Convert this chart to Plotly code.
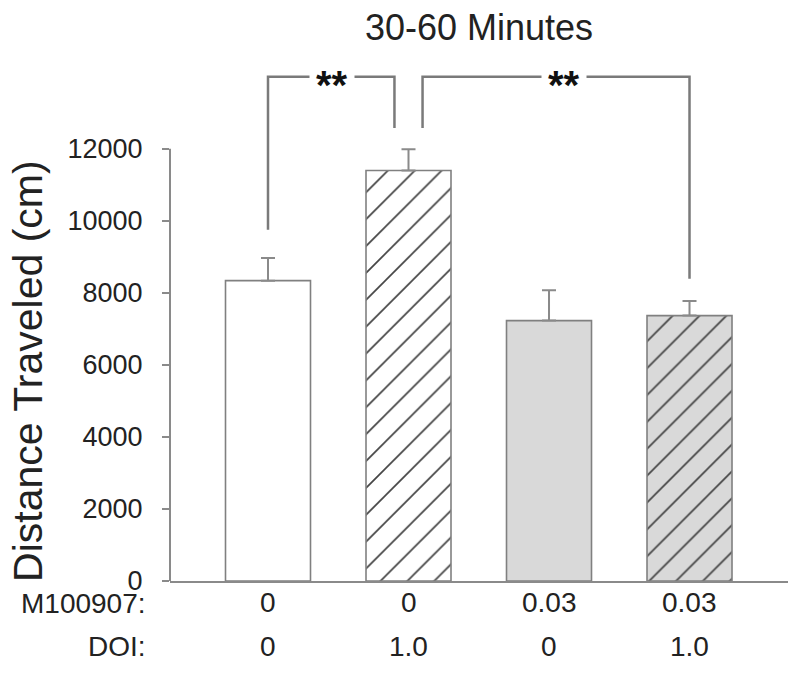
import plotly.graph_objects as go

# ---- data ----
m100907_labels = ["0", "0", "0.03", "0.03"]
doi_labels = ["0", "1.0", "0", "1.0"]
distance = [8340, 11400, 7230, 7370]
sem = [630, 590, 845, 408]
bar_fill = ["white", "white", "#d9d9d9", "#d9d9d9"]
bar_hatch = ["", "/", "", "/"]
y_ticks = [0, 2000, 4000, 6000, 8000, 10000, 12000]

# significance brackets (x in group index, y in cm)
bracket1_x = [0, 0, 0.9, 0.9]
bracket1_y = [9750, 14000, 14000, 12580]
bracket2_x = [1.1, 1.1, 3, 3]
bracket2_y = [12580, 14000, 14000, 8390]
star_x = [0.455, 2.107]
star_y = 14000
star_text = "<b>**</b>"

FONT = "Liberation Sans, Arial, sans-serif"
TXT = "#222222"
GRAY = "#8a8a8a"

xs = list(range(len(distance)))

fig = go.Figure()
fig.add_trace(go.Bar(
    x=xs, y=distance, width=0.605,
    marker=dict(color=bar_fill, line=dict(color="#808080", width=1.6),
                pattern=dict(shape=bar_hatch, bgcolor=bar_fill,
                             fgcolor="#555555", fgopacity=1, size=19,
                             solidity=0.09, fillmode="overlay")),
    error_y=dict(type="data", symmetric=False, array=sem,
                 arrayminus=[0] * len(sem), color=GRAY, thickness=2, width=7),
    showlegend=False, hoverinfo="skip",
))

for bx, by in ((bracket1_x, bracket1_y), (bracket2_x, bracket2_y)):
    fig.add_trace(go.Scatter(x=bx, y=by, mode="lines",
                             line=dict(color="#7a7a7a", width=2.5),
                             showlegend=False, hoverinfo="skip"))

annotations = []
for sx in star_x:
    annotations.append(dict(x=sx, y=star_y, xref="x", yref="y", text=star_text,
                            showarrow=False, bgcolor="white", borderpad=6,
                            font=dict(family=FONT, size=40, color="#111111"),
                            xanchor="center", yanchor="middle", yshift=-8))
for i, (m, d) in enumerate(zip(m100907_labels, doi_labels)):
    annotations.append(dict(x=xs[i], y=0, xref="x", yref="paper", text=m,
                            showarrow=False, yanchor="middle", yshift=-21,
                            font=dict(family=FONT, size=28, color=TXT)))
    annotations.append(dict(x=xs[i], y=0, xref="x", yref="paper", text=d,
                            showarrow=False, yanchor="middle", yshift=-65,
                            font=dict(family=FONT, size=28, color=TXT)))
annotations.append(dict(x=0, y=0, xref="paper", yref="paper", text="M100907:",
                        showarrow=False, xanchor="right", yanchor="middle",
                        xshift=-22, yshift=-22,
                        font=dict(family=FONT, size=28, color=TXT)))
annotations.append(dict(x=0, y=0, xref="paper", yref="paper", text="DOI:",
                        showarrow=False, xanchor="right", yanchor="middle",
                        xshift=-22, yshift=-65,
                        font=dict(family=FONT, size=28, color=TXT)))
annotations.append(dict(x=0, y=6000, xref="paper", yref="y",
                        text="Distance Traveled (cm)", textangle=-90,
                        showarrow=False, xanchor="center", yanchor="middle",
                        xshift=-142, yshift=-6,
                        font=dict(family=FONT, size=41, color=TXT)))

fig.update_layout(
    width=800, height=696,
    margin=dict(l=170, r=12, t=66, b=115),
    paper_bgcolor="white", plot_bgcolor="white",
    title=dict(text="30-60 Minutes", xref="paper", x=0.5, xanchor="center",
               y=1 - 27 / 696, yanchor="middle",
               font=dict(family=FONT, size=36, color=TXT)),
    xaxis=dict(range=[-0.6975, 3.701], showline=True, linecolor=GRAY,
               linewidth=2, showticklabels=False, ticks="", showgrid=False,
               zeroline=False),
    yaxis=dict(range=[0, 14300], showline=False, tickvals=y_ticks,
               tickformat="d", ticks="outside", ticklen=7, tickwidth=2,
               tickcolor=GRAY, ticklabelstandoff=14,
               showgrid=False, zeroline=False,
               tickfont=dict(family=FONT, size=27, color=TXT)),
    shapes=[dict(type="line", xref="paper", yref="y", x0=0, x1=0,
                 y0=0, y1=12000, line=dict(color=GRAY, width=2))],
    annotations=annotations,
)

fig.write_html("out.html", config={"displayModeBar": False},
               post_script="document.body.style.margin='0';")
